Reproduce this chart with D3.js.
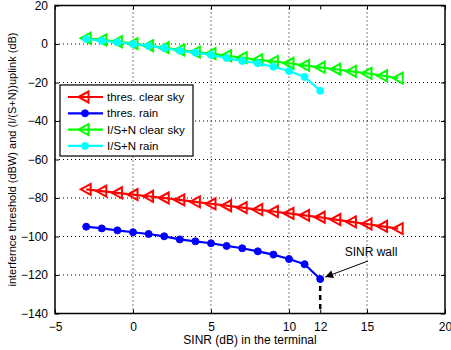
<!DOCTYPE html>
<html>
<head>
<meta charset="utf-8">
<script src="https://cdn.jsdelivr.net/npm/d3@7"></script>
<style>
  body { margin: 0; background: #fff; }
  svg text { font-family: "Liberation Sans", Arial, sans-serif; }
</style>
</head>
<body>
<div id="chart"></div>
<script>
// SINR values (dB) for each series
const sinrClear = d3.range(-3, 18);   // -3 .. 17
const sinrRain = d3.range(-3, 13);    // -3 .. 12

const thresClearSky = [-75.5, -76.4, -77.3, -78.2, -79.1, -80, -81, -82, -83, -84, -85,
  -86, -87, -88, -89, -90, -91.2, -92.4, -93.5, -94.7, -95.9];
const thresRain = [-94.9, -95.8, -96.8, -97.8, -98.7, -99.9, -101.5, -102.5, -103.5,
  -104.9, -106.1, -107.7, -109.4, -111.7, -114.4, -122.1];
const isnClearSky = [3.0, 2.1, 1.2, 0.2, -0.9, -1.9, -3.1, -4.2, -5.0, -6.1, -7.1,
  -8.2, -9.0, -10.0, -11.1, -12.1, -13.1, -14.2, -15.2, -16.5, -17.7];
const isnRain = [2.6, 1.7, 0.9, 0.0, -1.0, -2.1, -3.5, -4.5, -5.7, -7.3, -8.8,
  -10.0, -11.8, -14.0, -17.1, -24.3];

const xTicks = [-5, 0, 5, 10, 12, 15, 20];
const xGrid = [0, 5, 10, 15];
const yTicks = [-140, -120, -100, -80, -60, -40, -20, 0, 20];

const wallX = 12;
const wallY = -122.1;

const series = [
  { name: "thres. clear sky", x: sinrClear, y: thresClearSky, color: "#ff0000", marker: "tri" },
  { name: "thres. rain", x: sinrRain, y: thresRain, color: "#0000ff", marker: "dot" },
  { name: "I/S+N clear sky", x: sinrClear, y: isnClearSky, color: "#00ff00", marker: "tri" },
  { name: "I/S+N rain", x: sinrRain, y: isnRain, color: "#00ffff", marker: "dot" }
];

const width = 451, height = 350;
const margin = { top: 5.5, right: 6, bottom: 36.5, left: 55 };

const svg = d3.select("#chart").append("svg")
  .attr("width", width)
  .attr("height", height);

const x = d3.scaleLinear().domain([-5, 20]).range([margin.left, width - margin.right]);
const y = d3.scaleLinear().domain([-140, 20]).range([height - margin.bottom, margin.top]);

// grid
const grid = svg.append("g")
  .attr("stroke", "#000")
  .attr("stroke-width", 1)
  .attr("stroke-dasharray", "1,3");
grid.selectAll(".gx").data(xGrid).enter().append("line")
  .attr("x1", d => x(d)).attr("x2", d => x(d))
  .attr("y1", y(-140)).attr("y2", y(20));
grid.selectAll(".gy").data(yTicks.slice(1, -1)).enter().append("line")
  .attr("x1", x(-5)).attr("x2", x(20))
  .attr("y1", d => y(d)).attr("y2", d => y(d));

// axes (ticks inside, matlab style)
const fmt = d3.format("");
svg.append("g")
  .attr("transform", "translate(0," + y(-140) + ")")
  .call(d3.axisBottom(x).tickValues(xTicks).tickSize(-4).tickPadding(9).tickFormat(fmt))
  .call(g => g.select(".domain").remove())
  .selectAll("text").attr("font-size", 12).attr("fill", "#000");
svg.append("g")
  .attr("transform", "translate(" + x(-5) + ",0)")
  .call(d3.axisLeft(y).tickValues(yTicks).tickSize(-4).tickPadding(7).tickFormat(fmt))
  .call(g => g.select(".domain").remove())
  .selectAll("text").attr("font-size", 12).attr("fill", "#000");
svg.append("g")
  .attr("transform", "translate(" + x(20) + ",0)")
  .call(d3.axisRight(y).tickValues(yTicks).tickSize(-4).tickFormat(""))
  .call(g => g.select(".domain").remove());
svg.append("g")
  .attr("transform", "translate(0," + y(20) + ")")
  .call(d3.axisTop(x).tickValues(xTicks).tickSize(-4).tickFormat(""))
  .call(g => g.select(".domain").remove());

// frame
svg.append("rect")
  .attr("x", x(-5)).attr("y", y(20))
  .attr("width", x(20) - x(-5)).attr("height", y(-140) - y(20))
  .attr("fill", "none").attr("stroke", "#000").attr("stroke-width", 1.5);

// series
const triPath = "M-5.5,0L4.5,-5.5L4.5,5.5Z";
const line = d3.line();

function drawMarker(g, s, px, py) {
  if (s.marker === "tri") {
    g.append("path").attr("d", triPath)
      .attr("transform", "translate(" + px + "," + py + ")")
      .attr("fill", "none").attr("stroke", s.color).attr("stroke-width", 2);
  } else {
    g.append("circle").attr("cx", px).attr("cy", py).attr("r", 3.5)
      .attr("fill", s.color).attr("stroke", s.color);
  }
}

series.forEach(s => {
  const pts = s.x.map((v, i) => [x(v), y(s.y[i])]);
  const g = svg.append("g");
  g.append("path").attr("d", line(pts))
    .attr("fill", "none").attr("stroke", s.color).attr("stroke-width", 2.2);
  pts.forEach(p => drawMarker(g, s, p[0], p[1]));
});

// SINR wall
svg.append("line")
  .attr("x1", x(wallX)).attr("x2", x(wallX))
  .attr("y1", y(wallY) + 7).attr("y2", y(-140))
  .attr("stroke", "#000").attr("stroke-width", 2.5)
  .attr("stroke-dasharray", "5,4");

svg.append("defs").append("marker")
  .attr("id", "arrow")
  .attr("viewBox", "0 -5 10 10")
  .attr("refX", 10).attr("refY", 0)
  .attr("markerWidth", 10).attr("markerHeight", 8)
  .attr("markerUnits", "userSpaceOnUse")
  .attr("orient", "auto")
  .append("path").attr("d", "M0,-5L10,0L0,5Z").attr("fill", "#000");

svg.append("line")
  .attr("x1", 368).attr("y1", 261)
  .attr("x2", x(wallX) + 5).attr("y2", y(wallY) - 2)
  .attr("stroke", "#000").attr("stroke-width", 1)
  .attr("marker-end", "url(#arrow)");
svg.append("text")
  .attr("x", 371).attr("y", 256)
  .attr("text-anchor", "middle")
  .attr("font-size", 12)
  .text("SINR wall");

// legend
const legend = svg.append("g");
legend.append("rect")
  .attr("x", 60).attr("y", 85).attr("width", 133).attr("height", 71)
  .attr("fill", "#fff").attr("stroke", "#000").attr("stroke-width", 1.2);
series.forEach((s, i) => {
  const ly = 97 + i * 16.3;
  legend.append("line")
    .attr("x1", 68).attr("x2", 103).attr("y1", ly).attr("y2", ly)
    .attr("stroke", s.color).attr("stroke-width", 2.2);
  drawMarker(legend, s, s.marker === "tri" ? 84 : 85, ly);
  legend.append("text")
    .attr("x", 107).attr("y", ly + 4)
    .attr("font-size", 11.5)
    .text(s.name);
});

// axis labels
svg.append("text")
  .attr("x", (x(-5) + x(20)) / 2).attr("y", 344)
  .attr("text-anchor", "middle")
  .attr("font-size", 12)
  .text("SINR (dB) in the terminal");
svg.append("text")
  .attr("transform", "translate(16," + ((y(20) + y(-140)) / 2) + ") rotate(-90)")
  .attr("text-anchor", "middle")
  .attr("font-size", 11)
  .text("interfernce threshold (dBW) and (I/(S+N))uplink (dB)");
</script>
</body>
</html>
